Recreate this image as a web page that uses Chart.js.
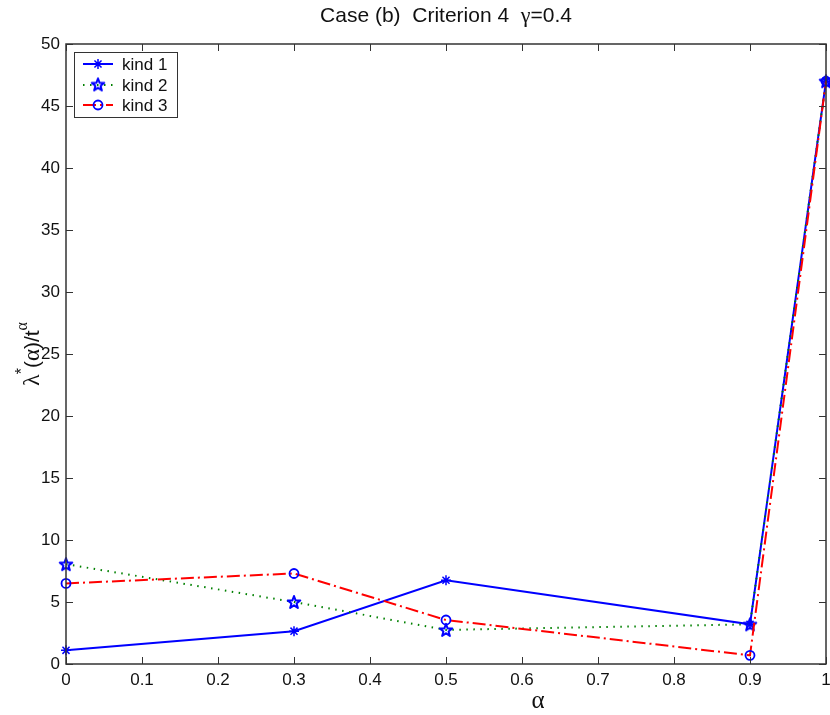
<!DOCTYPE html>
<html>
<head>
<meta charset="utf-8">
<script src="https://cdn.jsdelivr.net/npm/chart.js@4.4.0/dist/chart.umd.min.js"></script>
<style>
  body{margin:0;background:#fff}
  #zone{display:block}
</style>
</head>
<body>
<canvas id="zone" width="830" height="715"></canvas>
<script>
// alpha values and the three kinds of lambda*(alpha)/t^alpha
var alphas=[0,0.3,0.5,0.9,1]
var kind1=[1.1,2.65,6.75,3.2,47]
var kind2=[8.05,5.0,2.75,3.2,47]
var kind3=[6.5,7.3,3.55,0.7,47]
var seriesNames=["kind 1","kind 2","kind 3"]
var xTicks=[0,0.1,0.2,0.3,0.4,0.5,0.6,0.7,0.8,0.9,1]
var yTicks=[0,5,10,15,20,25,30,35,40,45,50]

const sans="Liberation Sans, Arial, sans-serif"
const serif="Liberation Serif, Times New Roman, serif"
const axisColor="#333333"

function pts(vals){
  return alphas.map((a,i)=>({x:a,y:vals[i]}))
}

// matlab-like pentagram marker
function makePentagram(){
  const c=document.createElement("canvas")
  c.width=16;c.height=16
  const g=c.getContext("2d")
  g.strokeStyle="#0000ff"
  g.lineWidth=2
  g.lineJoin="round"
  g.beginPath()
  for(let i=0;i<10;i++){
    const r=(i%2==0)?6.6:2.7
    const ang=-Math.PI/2+i*Math.PI/5
    const px=8+r*Math.cos(ang), py=8.6+r*Math.sin(ang)
    if(i==0) g.moveTo(px,py); else g.lineTo(px,py)
  }
  g.closePath()
  g.stroke()
  return c
}
const pentagram=makePentagram()

function drawAsterisk(ctx,x,y,r){
  ctx.save()
  ctx.strokeStyle="#0000ff"
  ctx.lineWidth=1.5
  ctx.beginPath()
  for(let k=0;k<4;k++){
    const a=k*Math.PI/4
    ctx.moveTo(x-r*Math.cos(a),y-r*Math.sin(a))
    ctx.lineTo(x+r*Math.cos(a),y+r*Math.sin(a))
  }
  ctx.stroke()
  ctx.restore()
}

const decorations={
  id:"decorations",
  afterDraw(chart){
    const ctx=chart.ctx
    const area=chart.chartArea
    const xs=chart.scales.x, ys=chart.scales.y
    ctx.save()

    // box and inward ticks
    ctx.strokeStyle=axisColor
    ctx.lineWidth=1
    for(let v of xTicks){
      const px=Math.round(xs.getPixelForValue(v))+0.5
      ctx.beginPath()
      ctx.moveTo(px,area.bottom);ctx.lineTo(px,area.bottom-7)
      ctx.moveTo(px,area.top);ctx.lineTo(px,area.top+7)
      ctx.stroke()
    }
    for(let v of yTicks){
      const py=Math.round(ys.getPixelForValue(v))+0.5
      ctx.beginPath()
      ctx.moveTo(area.left,py);ctx.lineTo(area.left+7,py)
      ctx.moveTo(area.right,py);ctx.lineTo(area.right-7,py)
      ctx.stroke()
    }
    ctx.lineWidth=1.5
    ctx.strokeRect(area.left,area.top,area.right-area.left,area.bottom-area.top)

    // x tick labels
    ctx.fillStyle="#111"
    ctx.font="17px "+sans
    ctx.textAlign="center"
    ctx.textBaseline="middle"
    for(let v of xTicks){
      ctx.fillText(String(v),xs.getPixelForValue(v),area.bottom+16)
    }

    // title
    ctx.textBaseline="middle"
    const parts=[["Case (b)  Criterion 4  ",sans,21],["γ",serif,22],["=0.4",sans,21]]
    let w=0
    for(let p of parts){ctx.font=p[2]+"px "+p[1];w+=ctx.measureText(p[0]).width}
    let tx=(area.left+area.right)/2-w/2
    ctx.textAlign="left"
    for(let p of parts){
      ctx.font=p[2]+"px "+p[1]
      ctx.fillText(p[0],tx,16)
      tx+=ctx.measureText(p[0]).width
    }

    // x label
    ctx.font="25px "+serif
    ctx.textAlign="center"
    ctx.fillText("α",538,701)

    // y label, rotated
    const runs=[
      {t:"λ",f:"24px "+serif,dy:0},
      {t:"*",f:"16px "+sans,dy:-10},
      {t:"(",f:"21px "+sans,dy:0},
      {t:"α",f:"23px "+serif,dy:0},
      {t:")/t",f:"21px "+sans,dy:0},
      {t:"α",f:"16px "+serif,dy:-10}
    ]
    let tw=0
    for(let r of runs){ctx.font=r.f;tw+=ctx.measureText(r.t).width}
    ctx.save()
    ctx.translate(33,(area.top+area.bottom)/2)
    ctx.rotate(-Math.PI/2)
    ctx.textAlign="left"
    ctx.textBaseline="middle"
    let rx=-tw/2
    for(let r of runs){
      ctx.font=r.f
      ctx.fillText(r.t,rx,r.dy)
      rx+=ctx.measureText(r.t).width
    }
    ctx.restore()

    // legend
    const lx=74, ly=52, lw=103, lh=65
    ctx.fillStyle="#fff"
    ctx.fillRect(lx,ly,lw,lh)
    ctx.strokeStyle=axisColor
    ctx.lineWidth=1
    ctx.strokeRect(lx+0.5,ly+0.5,lw,lh)
    const rows=[64,85,105]
    chart.data.datasets.forEach((ds,i)=>{
      const y=rows[i]
      ctx.save()
      ctx.strokeStyle=ds.borderColor
      ctx.lineWidth=ds.borderWidth
      ctx.setLineDash(ds.borderDash||[])
      ctx.beginPath();ctx.moveTo(83,y);ctx.lineTo(113,y);ctx.stroke()
      ctx.restore()
      if(i==0) drawAsterisk(ctx,98,y,5)
      if(i==1) ctx.drawImage(pentagram,90,y-8.6)
      if(i==2){
        ctx.save();ctx.strokeStyle="#0000ff";ctx.lineWidth=1.8
        ctx.beginPath();ctx.arc(98,y,4.5,0,Math.PI*2);ctx.stroke();ctx.restore()
      }
      ctx.fillStyle="#111"
      ctx.font="17px "+sans
      ctx.textAlign="left"
      ctx.textBaseline="middle"
      ctx.fillText(seriesNames[i],122,y+1)
    })
    ctx.restore()
  }
}

const config={
  type:"line",
  data:{
    datasets:[
      {
        label:seriesNames[0],
        data:pts(kind1),
        borderColor:"#0000ff",
        borderWidth:2,
        pointStyle:"star",
        pointRadius:5,
        pointBorderColor:"#0000ff",
        pointBorderWidth:1.5,
        order:3
      },
      {
        label:seriesNames[1],
        data:pts(kind2),
        borderColor:"#008000",
        borderWidth:2,
        borderDash:[1.5,5.5],
        pointStyle:pentagram,
        pointRadius:7,
        order:2
      },
      {
        label:seriesNames[2],
        data:pts(kind3),
        borderColor:"#ff0000",
        borderWidth:2,
        borderDash:[13,4,2,4],
        pointStyle:"circle",
        pointRadius:4.5,
        pointBorderColor:"#0000ff",
        pointBackgroundColor:"rgba(0,0,0,0)",
        pointBorderWidth:1.8,
        order:1
      }
    ]
  },
  options:{
    responsive:false,
    animation:false,
    clip:false,
    tension:0,
    layout:{autoPadding:false,padding:{top:44,right:4,left:0,bottom:0}},
    plugins:{legend:{display:false},tooltip:{enabled:false},title:{display:false}},
    scales:{
      x:{
        type:"linear",
        min:0,max:1,
        afterFit:(s)=>{s.height=51},
        grid:{display:false,drawTicks:false},
        border:{display:false},
        ticks:{display:false}
      },
      y:{
        type:"linear",
        min:0,max:50,
        afterFit:(s)=>{s.width=66},
        afterBuildTicks:(s)=>{s.ticks=yTicks.map(v=>({value:v}))},
        grid:{display:false,drawTicks:false},
        border:{display:false},
        ticks:{
          padding:6,
          color:"#111",
          font:{family:sans,size:17},
          autoSkip:false
        }
      }
    }
  },
  plugins:[decorations]
}

const zone=document.getElementById("zone")
const graphe=new Chart(zone,config)
</script>
</body>
</html>
